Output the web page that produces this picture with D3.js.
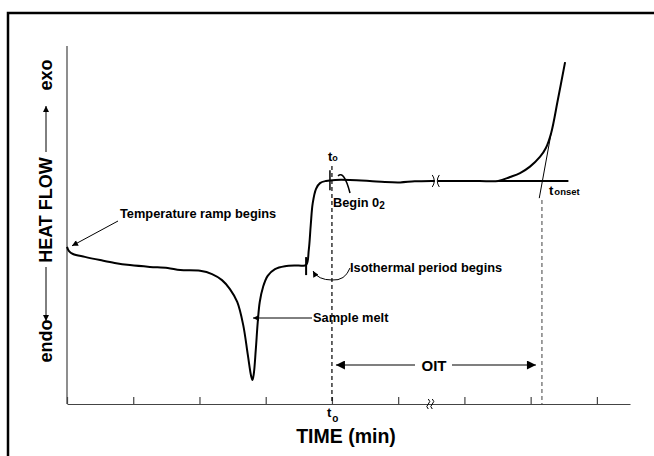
<!DOCTYPE html>
<html>
	<head>
		<title>OIT curve</title>
		<style type="text/css">
			body { margin: 0; background: #fff; }
			text { font-family: "Liberation Sans", Arial, sans-serif; font-weight: bold; fill: #000; }
		</style>
		<script src="https://cdn.jsdelivr.net/npm/d3@7/dist/d3.min.js"></script>
		<script type="text/javascript">
		// time in minutes (tick units), heat flow in arbitrary units
		var timeVals = [0, 0.03, 0.09, 0.27, 0.50, 0.72, 0.95, 1.25, 1.52, 1.71, 2.01, 2.19, 2.34, 2.46, 2.57, 2.66, 2.73, 2.78, 2.80, 2.82, 2.85, 2.88, 2.91, 2.96, 3.03, 3.14, 3.29, 3.49, 3.61, 3.65, 3.68, 3.71, 3.76, 3.82, 3.91, 4.05, 4.27, 4.57, 4.80, 5.03, 5.25, 5.55, 5.93, 6.23, 6.51, 6.69, 6.84, 6.99, 7.14, 7.23, 7.31, 7.41, 7.52];
		var heatFlow = [43.9, 42.7, 41.9, 41.1, 40.2, 39.4, 38.8, 38.3, 38.0, 37.4, 37.2, 36.3, 34.6, 32.1, 28.5, 22.1, 13.7, 7.8, 6.7, 8.4, 15.1, 22.9, 28.5, 32.7, 35.8, 37.7, 38.5, 38.7, 38.8, 43.0, 50.0, 56.1, 60.1, 61.7, 62.3, 62.6, 62.6, 62.3, 62.0, 61.9, 62.2, 62.3, 62.3, 62.3, 62.3, 63.4, 64.5, 66.3, 69.0, 71.5, 75.7, 84.9, 95.5];
		var baselineExt = [[6.51, 62.3], [7.57, 62.3]];
		var tangentLine = [[7.13, 57.5], [7.31, 75.7]];
		var tickVals = [0, 1, 2, 3, 4, 5, 6, 7, 8];
		var tZero = 4;
		var tOnset = 7.17;
		var isoStart = 3.61;
		var breakTime = 5.5;

		window.onload = function() {
			var width = 654, height = 456;
			var svg = d3.select("#chart").append("svg")
				.attr("width", width)
				.attr("height", height);

			var x = d3.scaleLinear().domain([0, 8.5]).range([67, 630]);
			var y = d3.scaleLinear().domain([0, 100]).range([404, 46]);

			var defs = svg.append("defs");
			function marker(id, w, h) {
				defs.append("marker")
					.attr("id", id)
					.attr("viewBox", "0 0 10 10")
					.attr("refX", 10).attr("refY", 5)
					.attr("markerUnits", "userSpaceOnUse")
					.attr("markerWidth", w).attr("markerHeight", h)
					.attr("orient", "auto")
					.append("path")
					.attr("d", "M0,0L10,5L0,10Z")
					.attr("fill", "#000");
			}
			marker("small", 8, 6);
			marker("big", 18, 9);

			// frame
			svg.append("rect")
				.attr("x", 8).attr("y", 13)
				.attr("width", 700).attr("height", 500)
				.attr("fill", "none")
				.attr("stroke", "#000")
				.attr("stroke-width", 2.5);

			// axes
			svg.append("line")
				.attr("x1", x(0)).attr("x2", x(0))
				.attr("y1", y(100)).attr("y2", y(0))
				.attr("stroke", "#444").attr("stroke-width", 1.2);

			var xAxis = svg.append("g")
				.attr("transform", "translate(0," + y(0) + ")")
				.call(d3.axisBottom(x).tickValues(tickVals).tickSize(-7).tickSizeOuter(0).tickFormat(""));
			xAxis.selectAll("path, line").attr("stroke", "#444").attr("stroke-width", 1.2);

			// axis break squiggles
			var bx = x(breakTime);
			[-2, 2].forEach(function(d) {
				svg.append("path")
					.attr("d", "M" + (bx + d - 1) + "," + (y(0) - 5) + "q3,2.5 0,5 q-3,2.5 0,5")
					.attr("fill", "none").attr("stroke", "#000").attr("stroke-width", 1);
			});

			// dashed time markers
			svg.append("line")
				.attr("x1", x(tZero)).attr("x2", x(tZero))
				.attr("y1", 166).attr("y2", y(0))
				.attr("stroke", "#000").attr("stroke-width", 1.2)
				.attr("stroke-dasharray", "4,3");
			svg.append("line")
				.attr("x1", x(tOnset)).attr("x2", x(tOnset))
				.attr("y1", 200).attr("y2", y(0))
				.attr("stroke", "#888").attr("stroke-width", 1.6)
				.attr("stroke-dasharray", "4,3");

			// heat flow curve
			var line = d3.line()
				.x(function(d) { return x(d[0]); })
				.y(function(d) { return y(d[1]); })
				.curve(d3.curveCatmullRom.alpha(0.5));
			var pts = d3.zip(timeVals, heatFlow);
			svg.append("path")
				.datum(pts)
				.attr("d", line)
				.attr("fill", "none").attr("stroke", "#000").attr("stroke-width", 2);

			var straight = d3.line()
				.x(function(d) { return x(d[0]); })
				.y(function(d) { return y(d[1]); });
			svg.append("path").datum(baselineExt).attr("d", straight)
				.attr("stroke", "#000").attr("stroke-width", 2);
			svg.append("path").datum(tangentLine).attr("d", straight)
				.attr("stroke", "#000").attr("stroke-width", 1);

			// break on curve: ")(" with a small gap
			var cx = x(breakTime) + 5, cy = y(62.3);
			svg.append("rect").attr("x", cx - 1.5).attr("y", cy - 2).attr("width", 3).attr("height", 4).attr("fill", "#fff");
			svg.append("path").attr("d", "M" + (cx - 4) + "," + (cy - 6) + "q4,6 0,12")
				.attr("fill", "none").attr("stroke", "#000").attr("stroke-width", 1);
			svg.append("path").attr("d", "M" + (cx + 3) + "," + (cy - 6) + "q-4,6 0,12")
				.attr("fill", "none").attr("stroke", "#000").attr("stroke-width", 1);

			// small vertical marks on curve
			svg.append("line")
				.attr("x1", x(isoStart)).attr("x2", x(isoStart))
				.attr("y1", y(38.8) - 8).attr("y2", y(38.8) + 10)
				.attr("stroke", "#000").attr("stroke-width", 2);
			svg.append("line")
				.attr("x1", x(tZero) - 2).attr("x2", x(tZero) - 2)
				.attr("y1", y(62.5) - 10).attr("y2", y(62.5) + 10)
				.attr("stroke", "#000").attr("stroke-width", 1.5);
			// begin O2 hook
			svg.append("path")
				.attr("d", "M338,176 Q344,170 350,193")
				.attr("fill", "none").attr("stroke", "#000").attr("stroke-width", 1.5);

			// annotations
			svg.append("line")
				.attr("x1", 118).attr("y1", 221)
				.attr("x2", x(0) + 5).attr("y2", y(43.9) - 1)
				.attr("stroke", "#000").attr("stroke-width", 1)
				.attr("marker-end", "url(#small)");
			svg.append("text").attr("x", 120).attr("y", 218)
				.style("font-size", "12.8px").text("Temperature ramp begins");

			svg.append("line")
				.attr("x1", 312).attr("y1", 318)
				.attr("x2", 253).attr("y2", 318)
				.attr("stroke", "#000").attr("stroke-width", 1)
				.attr("marker-end", "url(#small)");
			svg.append("text").attr("x", 313).attr("y", 322)
				.style("font-size", "12.8px").text("Sample melt");

			svg.append("path")
				.attr("d", "M350,268 Q345,281 332,280 Q318,280 313,271")
				.attr("fill", "none").attr("stroke", "#000").attr("stroke-width", 1)
				.attr("marker-end", "url(#small)");
			svg.append("text").attr("x", 350).attr("y", 272)
				.style("font-size", "12.8px").text("Isothermal period begins");

			var b = svg.append("text").attr("x", 333).attr("y", 207).style("font-size", "12.8px");
			b.append("tspan").text("Begin 0");
			b.append("tspan").attr("dy", 2).style("font-size", "10px").text("2");

			var t1 = svg.append("text").attr("x", 328).attr("y", 161).style("font-size", "13px");
			t1.append("tspan").text("t");
			t1.append("tspan").style("font-size", "9px").text("o");

			var t2 = svg.append("text").attr("x", 549).attr("y", 195).style("font-size", "13px");
			t2.append("tspan").text("t");
			t2.append("tspan").attr("dx", 1).style("font-size", "9.5px").text("onset");

			var t3 = svg.append("text").attr("x", 327).attr("y", 417).style("font-size", "13px");
			t3.append("tspan").text("t");
			t3.append("tspan").attr("dx", 1).attr("dy", 5).style("font-size", "10px").text("o");

			// OIT arrow
			var oy = 365;
			svg.append("line").attr("x1", 415).attr("x2", x(tZero) + 4)
				.attr("y1", oy).attr("y2", oy)
				.attr("stroke", "#000").attr("stroke-width", 1.2).attr("marker-end", "url(#big)");
			svg.append("line").attr("x1", 452).attr("x2", x(tOnset) - 6)
				.attr("y1", oy).attr("y2", oy)
				.attr("stroke", "#000").attr("stroke-width", 1.2).attr("marker-end", "url(#big)");
			svg.append("text").attr("x", 434).attr("y", oy + 5.5)
				.attr("text-anchor", "middle").style("font-size", "15px").text("OIT");

			// axis titles
			svg.append("text").attr("x", 346).attr("y", 443)
				.attr("text-anchor", "middle").style("font-size", "19.5px").text("TIME (min)");

			var ly = svg.append("g").attr("transform", "translate(52,0)");
			function vtext(cyPos, s) {
				ly.append("text")
					.attr("transform", "translate(0," + cyPos + ") rotate(-90)")
					.attr("text-anchor", "middle")
					.style("font-size", "18px")
					.text(s);
			}
			vtext(75, "exo");
			vtext(210, "HEAT FLOW");
			vtext(341, "endo");
			ly.append("line").attr("x1", -6).attr("x2", -6)
				.attr("y1", 152).attr("y2", 106)
				.attr("stroke", "#000").attr("stroke-width", 1)
				.attr("marker-end", "url(#small)");
			ly.append("line").attr("x1", -6).attr("x2", -6)
				.attr("y1", 267).attr("y2", 321)
				.attr("stroke", "#000").attr("stroke-width", 1)
				.attr("marker-end", "url(#small)");
		}
		</script>
	</head>
	<body>
		<div id="chart"></div>
	</body>
</html>
